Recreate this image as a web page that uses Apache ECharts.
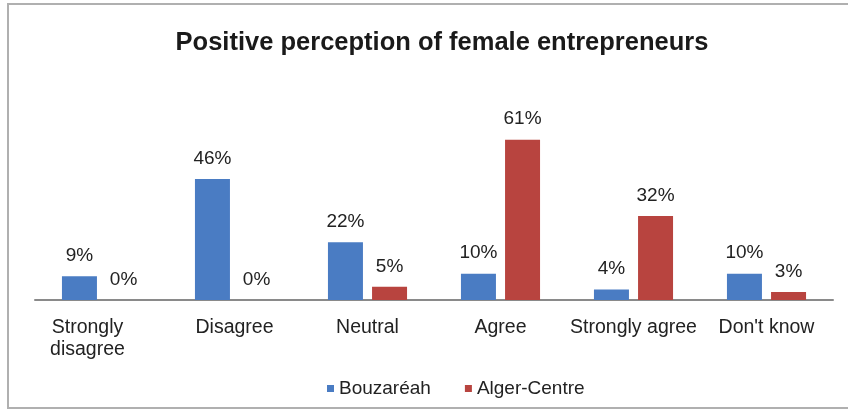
<!DOCTYPE html>
<html>
<head>
<meta charset="utf-8">
<script src="https://cdn.jsdelivr.net/npm/echarts@6/dist/echarts.min.js"></script>
<style>
  html, body { margin: 0; padding: 0; background: #ffffff; }
  #chart { width: 848px; height: 412px; }
</style>
</head>
<body>
<div id="chart"></div>
<script>
// Survey answers, share of respondents (%)
const categories = ['Strongly\ndisagree', 'Disagree', 'Neutral', 'Agree', 'Strongly agree', "Don't know"];
const bouzareah = [9, 46, 22, 10, 4, 10];
const algerCentre = [0, 0, 5, 61, 32, 3];
const seriesNames = ['Bouzaréah', 'Alger-Centre'];

const FONT = '"Liberation Sans", Arial, Helvetica, sans-serif';
const BLUE = '#4a7cc3';
const RED = '#b8443f';
const TEXT = '#222222';

const chart = echarts.init(document.getElementById('chart'), null, { renderer: 'canvas' });

const valueLabel = {
  show: true,
  position: 'top',
  distance: 11,
  formatter: p => p.value + '%',
  fontFamily: FONT,
  fontSize: 19,
  color: TEXT
};

chart.setOption({
  animation: false,
  backgroundColor: '#ffffff',
  graphic: [{
    type: 'rect',
    shape: { x: 8, y: 4, width: 860, height: 404 },
    style: { fill: 'none', stroke: '#b0b0b0', lineWidth: 2 },
    silent: true,
    z: -1
  }],
  title: {
    text: 'Positive perception of female entrepreneurs',
    left: 437,
    top: 25,
    textAlign: 'center',
    textStyle: { fontFamily: FONT, fontSize: 25.5, fontWeight: 'bold', color: '#1a1a1a' }
  },
  legend: {
    bottom: 9,
    left: 322,
    itemWidth: 7,
    itemHeight: 7,
    itemGap: 34,
    icon: 'rect',
    textStyle: { fontFamily: FONT, fontSize: 19, color: TEXT },
    data: seriesNames
  },
  grid: { left: 35, right: 15, top: 116, bottom: 112, containLabel: false },
  xAxis: {
    type: 'category',
    data: categories,
    axisLine: { lineStyle: { color: '#8a8a8a', width: 2 } },
    axisTick: { show: false },
    axisLabel: {
      interval: 0,
      margin: 17,
      fontFamily: FONT,
      fontSize: 19.5,
      lineHeight: 22,
      color: TEXT,
      // the two-line first label sits a little left of its bars
      formatter: (value, idx) => idx === 0 ? '{lead|' + value + '}' : value,
      rich: {
        lead: { fontFamily: FONT, fontSize: 19.5, lineHeight: 22, color: TEXT, padding: [0, 28, 0, 0] }
      }
    }
  },
  yAxis: {
    type: 'value',
    min: 0,
    max: 70,
    show: false,
    splitLine: { show: false }
  },
  series: [
    {
      name: seriesNames[0],
      type: 'bar',
      data: bouzareah,
      barWidth: 35,
      barGap: '26%',
      itemStyle: { color: BLUE },
      label: valueLabel
    },
    {
      name: seriesNames[1],
      type: 'bar',
      data: algerCentre,
      barWidth: 35,
      itemStyle: { color: RED },
      label: valueLabel
    }
  ]
});
</script>
</body>
</html>
